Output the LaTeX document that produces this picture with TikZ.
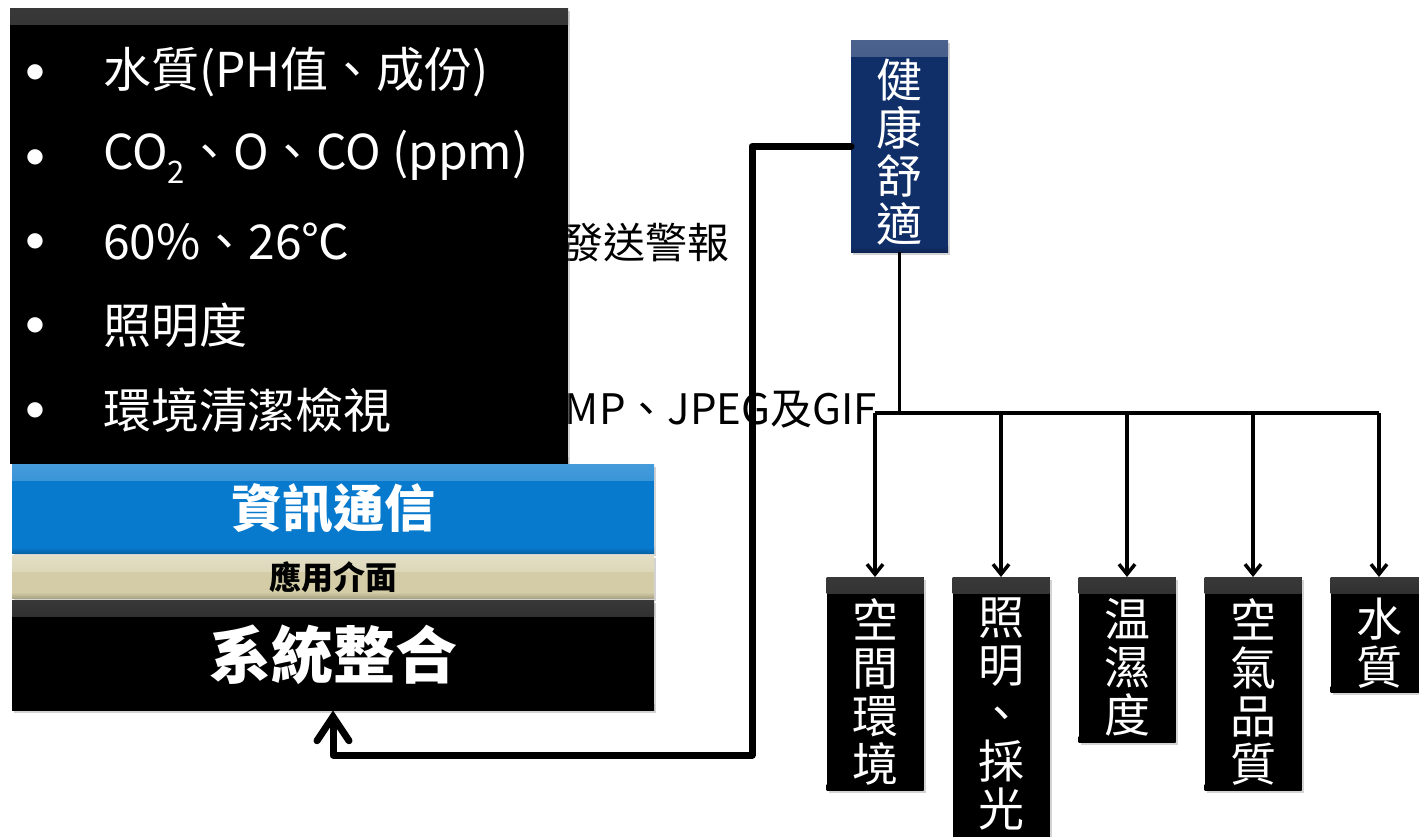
\documentclass[tikz,border=0pt]{standalone}
\usepackage{fontspec}
\setmainfont{Noto Sans CJK TC}
\newfontfamily\symfont{DejaVu Sans}
\usetikzlibrary{arrows.meta,shadows}
\definecolor{infoblue}{RGB}{8,122,206}
\definecolor{navyfill}{RGB}{16,46,104}
\definecolor{tanfill}{RGB}{212,204,166}
\tikzset{
  box/.style={draw=none, inner sep=0pt, drop shadow={shadow xshift=2pt,shadow yshift=-3pt,opacity=0.35}},
  bevel/.style 2 args={path picture={
     \shade[top color=#1, bottom color=#2] (path picture bounding box.north west) rectangle ([yshift=-16pt]path picture bounding box.north east);
     \shade[top color=#2, bottom color=#2!80!black] ([yshift=6pt]path picture bounding box.south west) rectangle (path picture bounding box.south east);}},
  blackbox/.style={box, fill=black, text=white, bevel={black!78}{black}},
  vbox/.style={blackbox, anchor=north, minimum width=97pt},
  vtext/.style={anchor=north, inner sep=0pt, text=white, align=center, font=\fontsize{46}{48}\selectfont},
  dotmark/.style={anchor=center, inner sep=0pt, text=white, font=\symfont\fontsize{20}{20}\selectfont},
  itemtxt/.style={anchor=west, inner sep=0pt, text=white, font=\fontsize{48}{52}\selectfont},
  plaintxt/.style={inner sep=0pt, text=black, font=\fontsize{42}{46}\selectfont},
  mainline/.style={line width=7pt, line join=round, line cap=round, -{Straight Barb[length=24pt,width=32pt,line cap=round]}},
  treeline/.style={line width=3.5pt},
  treearrow/.style={line width=3.5pt, -{Straight Barb[length=10pt,width=16pt]}}
}
\begin{document}
\begin{tikzpicture}[x=1pt,y=-1pt]
\useasboundingbox (0,0) rectangle (1419,836);
% partly hidden texts
\node[plaintxt, anchor=west] (alarm) at (561,243) {發送警報};
\node[plaintxt, anchor=east] (fmt) at (877,410) {BMP、JPEG及GIF};
% top black list box
\node[blackbox, minimum width=558pt, minimum height=455pt, anchor=north west] (list) at (10,8) {};
\node[dotmark] (d1) at (35,72) {●};
\node[dotmark] (d2) at (35,157) {●};
\node[dotmark] (d3) at (35,241) {●};
\node[dotmark] (d4) at (35,325) {●};
\node[dotmark] (d5) at (35,410) {●};
\node[itemtxt] (t1) at (103,72) {水質(PH值、成份)};
\node[itemtxt] (t2) at (103,157) {CO\raisebox{-0.28em}{\fontsize{31}{31}\selectfont 2}、O、CO (ppm)};
\node[itemtxt] (t3) at (103,241) {60\%、26℃};
\node[itemtxt] (t4) at (103,325) {照明度};
\node[itemtxt] (t5) at (103,410) {環境清潔檢視};
% layered boxes
\node[box, fill=infoblue, bevel={infoblue!75!white}{infoblue}, text=white, font=\bfseries\fontsize{51}{51}\selectfont, minimum width=642pt, minimum height=89pt, anchor=north west] (ict) at (12,464) {資訊通信};
\node[box, fill=tanfill, bevel={tanfill!65!white}{tanfill}, text=black, font=\bfseries\fontsize{32}{32}\selectfont, minimum width=642pt, minimum height=43pt, anchor=north west] (ui) at (12,555) {應用介面};
\node[blackbox, font=\bfseries\fontsize{62}{62}\selectfont, minimum width=642pt, minimum height=110pt, anchor=north west] (sys) at (12,600) {系統整合};
% health box
\node[box, fill=navyfill, bevel={navyfill!75!white}{navyfill}, minimum width=97pt, minimum height=212pt, anchor=north west] (health) at (851,40) {};
\node[vtext] (healthT) at (899.5,59) {健\\康\\舒\\適};
% category boxes
\node[vbox, minimum height=213pt] (space) at (875,577) {};
\node[vbox, minimum height=290pt] (light) at (1001,577) {};
\node[vbox, minimum height=165pt] (humid) at (1127,577) {};
\node[vbox, minimum height=213pt] (air) at (1253,577) {};
\node[vbox, minimum height=115pt] (water) at (1379,577) {};
\node[vtext] (spaceT) at (875,598) {空\\間\\環\\境};
\node[vtext] (lightT) at (1001,598) {照\\明\\、\\採\\光};
\node[vtext] (humidT) at (1127,598) {温\\濕\\度};
\node[vtext] (airT) at (1253,598) {空\\氣\\品\\質};
\node[vtext] (waterT) at (1379,598) {水\\質};
% tree
\coordinate (hj) at (health.south |- 0,413);
\draw[treeline] (health.south) -- (hj);
\draw[treeline] (space.north |- hj) -- (water.north |- hj);
\foreach \n in {space,light,humid,air,water}{
  \draw[treearrow] (\n.north |- hj) -- (\n.north);
}
% feedback connector
\coordinate (turnA) at (752,0 |- health.west);
\coordinate (turnB) at (752,755);
\coordinate (turnC) at (333,755);
\draw[mainline] (health.west) -- (turnA) -- (turnB) -- (turnC) -- (turnC |- sys.south);
\end{tikzpicture}
\end{document}
